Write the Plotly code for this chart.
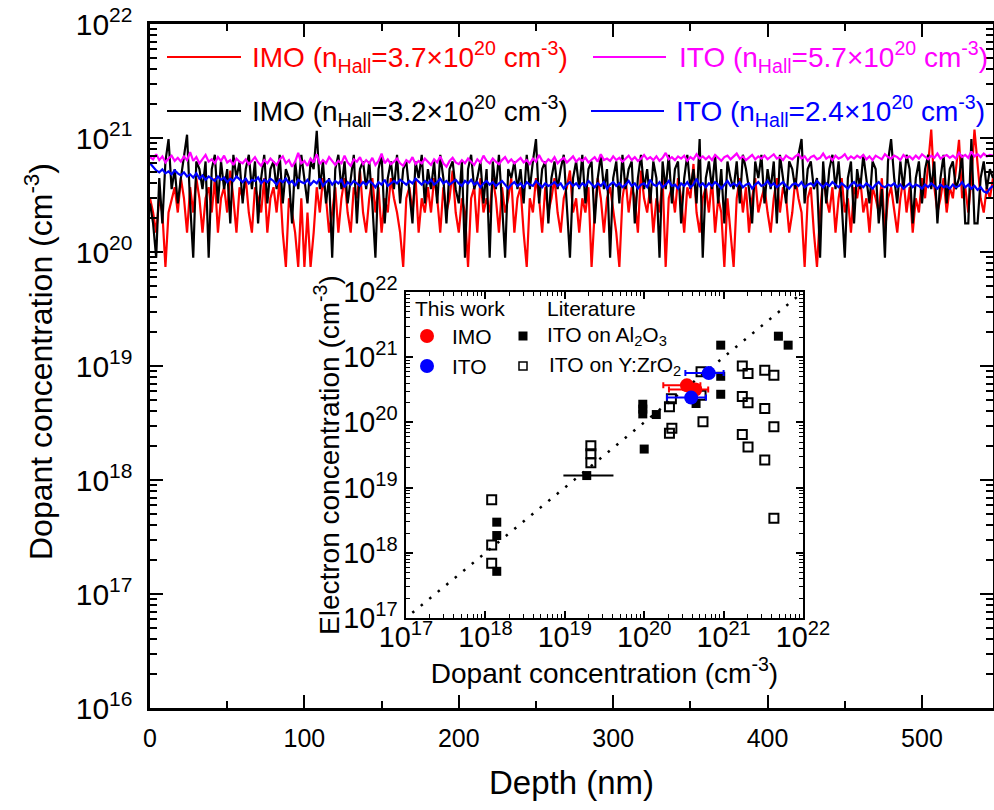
import plotly.graph_objects as go

# ---------------- main chart data (units of 1e20 cm^-3), depth step 2 nm ----------------
DEPTH_STEP_NM = 2

imo_37 = [
    2.96, 2.22, 1.48, 2.96, 2.22, 0.74, 2.22, 2.96, 3.70, 2.22,
    4.44, 2.96, 1.48, 3.70, 2.22, 4.44, 2.96, 1.48, 2.96, 3.70,
    2.22, 4.44, 1.48, 2.96, 3.70, 2.22, 5.18, 2.96, 1.48, 3.70,
    2.96, 4.44, 2.22, 1.48, 3.70, 2.96, 2.22, 4.44, 1.48, 2.96,
    3.70, 2.22, 4.44, 1.48, 0.74, 2.96, 2.22, 1.48, 0.74, 2.96,
    0.74, 2.22, 0.74, 1.48, 3.70, 2.22, 4.44, 2.96, 1.48, 2.22,
    3.70, 1.48, 2.96, 4.44, 2.22, 1.48, 3.70, 2.96, 5.18, 2.22,
    1.48, 2.96, 4.44, 2.22, 3.70, 1.48, 2.96, 2.22, 4.44, 2.96,
    2.22, 1.48, 0.74, 2.96, 3.70, 2.22, 4.44, 1.48, 2.96, 2.22,
    3.70, 2.22, 4.44, 2.96, 1.48, 3.70, 2.22, 2.96, 5.18, 2.22,
    1.48, 2.96, 2.22, 0.74, 2.96, 3.70, 1.48, 4.44, 2.22, 2.96,
    2.22, 4.44, 2.96, 1.48, 3.70, 2.22, 2.96, 4.44, 1.48, 2.96,
    3.70, 1.48, 0.74, 2.96, 2.22, 4.44, 2.96, 1.48, 3.70, 2.22,
    2.96, 4.44, 2.22, 1.48, 2.96, 3.70, 5.18, 2.22, 2.96, 1.48,
    2.96, 2.22, 3.70, 0.74, 2.22, 4.44, 2.96, 1.48, 2.96, 3.70,
    2.22, 1.48, 0.74, 2.96, 4.44, 2.22, 3.70, 2.96, 1.48, 5.18,
    2.96, 2.22, 3.70, 1.48, 2.96, 2.22, 4.44, 0.74, 2.96, 3.70,
    2.22, 4.44, 2.96, 1.48, 3.70, 2.96, 5.92, 2.22, 1.48, 2.96,
    3.70, 2.22, 4.44, 1.48, 2.96, 2.22, 0.74, 2.96, 1.48, 0.74,
    2.96, 4.44, 2.22, 3.70, 1.48, 2.96, 4.44, 2.22, 2.96, 3.70,
    2.22, 1.48, 2.96, 4.44, 2.22, 3.70, 2.96, 1.48, 2.22, 4.44,
    2.96, 2.22, 0.74, 2.96, 3.70, 1.48, 0.74, 2.22, 4.44, 2.96,
    2.22, 3.70, 1.48, 2.96, 4.44, 2.22, 2.96, 1.48, 3.70, 2.96,
    4.44, 2.22, 2.96, 1.48, 3.70, 2.96, 2.22, 4.44, 1.48, 2.96,
    3.70, 2.22, 1.48, 2.96, 4.44, 2.22, 3.70, 1.48, 2.96, 2.22,
    4.44, 2.96, 5.92, 11.84, 3.70, 2.22, 2.96, 4.44, 2.22, 3.70,
    2.96, 5.18, 9.62, 2.96, 3.70, 2.22, 4.44, 11.84, 5.92, 2.96,
    2.22, 3.70, 2.96, 4.44,
]

imo_32 = [
    2.67, 1.78, 0.89, 4.45, 1.78, 6.23, 9.79, 3.56, 5.34, 2.67,
    4.45, 7.12, 10.68, 2.67, 0.89, 6.23, 5.34, 3.56, 6.23, 0.89,
    5.34, 7.12, 2.67, 6.23, 3.56, 5.34, 1.78, 7.12, 4.45, 6.23,
    2.67, 5.34, 7.12, 3.56, 6.23, 1.78, 4.45, 7.12, 2.67, 5.34,
    6.23, 3.56, 7.12, 2.67, 5.34, 4.45, 1.78, 6.23, 3.56, 7.12,
    4.45, 2.67, 6.23, 5.34, 11.57, 3.56, 6.23, 2.67, 4.45, 0.89,
    5.34, 7.12, 3.56, 6.23, 2.67, 4.45, 7.12, 1.78, 5.34, 6.23,
    3.56, 6.23, 2.67, 0.89, 5.34, 7.12, 1.78, 4.45, 6.23, 3.56,
    7.12, 2.67, 5.34, 6.23, 3.56, 1.78, 6.23, 4.45, 7.12, 2.67,
    5.34, 3.56, 6.23, 2.67, 7.12, 4.45, 1.78, 5.34, 6.23, 3.56,
    2.67, 6.23, 0.89, 5.34, 7.12, 3.56, 4.45, 6.23, 2.67, 5.34,
    0.89, 6.23, 3.56, 7.12, 2.67, 0.89, 5.34, 4.45, 6.23, 3.56,
    5.34, 2.67, 7.12, 3.56, 6.23, 9.79, 2.67, 5.34, 6.23, 1.78,
    4.45, 6.23, 3.56, 5.34, 7.12, 2.67, 0.89, 4.45, 6.23, 3.56,
    7.12, 2.67, 5.34, 6.23, 1.78, 4.45, 7.12, 3.56, 5.34, 0.89,
    4.45, 6.23, 2.67, 7.12, 3.56, 5.34, 6.23, 1.78, 4.45, 7.12,
    3.56, 5.34, 2.67, 6.23, 4.45, 0.89, 6.23, 3.56, 7.12, 2.67,
    5.34, 6.23, 1.78, 4.45, 7.12, 3.56, 5.34, 2.67, 9.79, 0.89,
    4.45, 6.23, 3.56, 7.12, 2.67, 5.34, 1.78, 6.23, 4.45, 3.56,
    6.23, 2.67, 7.12, 5.34, 3.56, 1.78, 6.23, 4.45, 7.12, 2.67,
    5.34, 3.56, 6.23, 1.78, 7.12, 4.45, 2.67, 6.23, 5.34, 3.56,
    7.12, 9.79, 2.67, 5.34, 6.23, 3.56, 4.45, 0.89, 6.23, 2.67,
    5.34, 7.12, 3.56, 6.23, 2.67, 0.89, 4.45, 6.23, 1.78, 5.34,
    3.56, 7.12, 4.45, 2.67, 6.23, 5.34, 1.78, 3.56, 0.89, 6.23,
    9.79, 4.45, 2.67, 6.23, 3.56, 7.12, 5.34, 1.78, 4.45, 6.23,
    2.67, 5.34, 7.12, 3.56, 6.23, 1.78, 4.45, 7.12, 2.67, 5.34,
    6.23, 3.56, 4.45, 7.12, 1.78, 1.78, 9.79, 1.78, 1.78, 4.45,
    6.23, 3.56, 5.34, 4.45,
]

ito_57 = [
    6.8, 6.5, 7.2, 6.4, 6.9, 6.1, 6.6, 7.0, 6.3, 6.7,
    6.2, 6.9, 6.4, 7.5, 6.3, 6.8, 6.0, 6.6, 7.1, 6.2,
    6.5, 6.0, 6.8, 6.3, 7.0, 6.1, 6.4, 5.8, 6.6, 6.2,
    6.0, 6.5, 5.9, 6.3, 6.8, 6.1, 5.7, 6.4, 6.0, 6.6,
    6.2, 5.8, 6.5, 6.9, 6.0, 6.4, 5.6, 6.2, 7.4, 6.0,
    6.3, 5.7, 6.6, 6.1, 7.2, 5.9, 6.4, 6.0, 6.8, 6.2,
    5.8, 6.3, 6.0, 7.0, 6.1, 5.7, 6.5, 6.2, 6.8, 5.9,
    6.4, 6.0, 6.7, 5.8, 6.3, 7.3, 6.0, 6.5, 5.9, 6.2,
    6.6, 6.0, 5.7, 6.4, 6.1, 6.8, 5.9, 6.3, 6.0, 6.6,
    6.2, 5.8, 6.5, 6.1, 6.9, 6.0, 5.6, 6.3, 6.7, 6.1,
    5.9, 6.4, 6.0, 6.6, 6.2, 5.8, 6.5, 6.1, 7.0, 6.3,
    6.0, 6.6, 6.2, 5.9, 6.4, 6.8, 6.1, 6.5, 6.0, 6.3,
    6.7, 6.1, 6.4, 5.9, 6.6, 6.2, 7.1, 6.3, 6.0, 6.5,
    6.2, 6.8, 6.0, 6.4, 6.7, 6.1, 6.5, 6.9, 6.2, 6.6,
    6.3, 6.7, 6.1, 6.5, 6.8, 6.2, 7.2, 6.4, 6.6, 6.3,
    6.9, 6.4, 6.7, 6.2, 6.6, 7.0, 6.4, 6.8, 6.3, 6.6,
    7.1, 6.5, 6.8, 6.4, 6.9, 6.3, 6.7, 7.4, 6.5, 6.8,
    6.4, 6.9, 6.6, 7.0, 6.3, 6.8, 6.5, 7.2, 6.6, 6.9,
    6.5, 6.9, 6.4, 7.1, 6.7, 6.3, 6.8, 7.0, 6.5, 6.9,
    7.3, 6.6, 6.9, 6.4, 6.8, 7.1, 6.5, 6.9, 6.6, 7.0,
    6.5, 6.9, 7.2, 6.6, 6.8, 6.4, 7.0, 6.7, 6.5, 6.9,
    7.2, 6.6, 6.9, 6.3, 6.8, 7.0, 6.5, 6.7, 7.3, 6.6,
    6.9, 6.4, 7.0, 6.6, 6.8, 7.2, 6.5, 6.9, 6.6, 7.0,
    6.7, 7.1, 6.5, 6.9, 6.4, 7.0, 6.7, 6.5, 7.2, 6.8,
    6.6, 7.0, 6.8, 6.4, 7.1, 6.7, 6.9, 6.5, 7.0, 6.6,
    7.2, 6.8, 6.5, 7.0, 6.7, 7.3, 6.6, 6.9, 7.1, 6.7,
    7.0, 6.6, 7.4, 6.8, 7.1, 6.7, 7.6, 6.9, 7.2, 6.8,
    7.3, 6.9, 7.1, 7.0,
]

ito_24 = [
    6.0, 5.6, 5.2, 5.0, 5.3, 4.9, 5.1, 4.8, 5.2, 4.9,
    4.7, 5.0, 4.6, 4.8, 4.5, 4.9, 4.4, 4.7, 4.3, 4.6,
    4.4, 4.2, 4.6, 4.3, 4.5, 4.1, 4.4, 4.2, 4.6, 4.3,
    4.1, 4.4, 4.0, 4.3, 4.2, 4.5, 4.0, 4.3, 4.1, 4.4,
    4.2, 3.9, 4.3, 4.1, 4.4, 4.0, 4.2, 3.8, 4.3, 4.1,
    4.0, 4.3, 3.9, 4.2, 4.0, 4.4, 3.8, 4.1, 4.3, 3.9,
    4.2, 4.0, 4.3, 3.7, 4.1, 3.9, 4.2, 4.0, 3.8, 4.1,
    3.9, 4.2, 4.0, 3.7, 4.1, 3.9, 4.3, 3.8, 4.0, 4.2,
    4.0, 4.3, 4.1, 3.9, 4.2, 4.0, 4.4, 4.1, 3.9, 4.2,
    4.0, 4.3, 3.9, 4.1, 4.4, 4.0, 4.2, 3.9, 4.1, 4.3,
    4.0, 3.8, 4.2, 4.0, 4.3, 3.9, 4.1, 3.7, 4.0, 4.2,
    3.9, 4.1, 3.8, 4.0, 4.2, 3.9, 3.6, 3.9, 4.1, 3.8,
    4.0, 3.7, 4.1, 3.9, 3.8, 4.2, 3.9, 3.7, 4.0, 3.8,
    3.9, 4.1, 3.8, 4.0, 3.6, 3.9, 4.1, 3.8, 4.0, 3.7,
    4.0, 3.8, 4.2, 3.9, 3.7, 4.0, 3.8, 4.1, 3.6, 3.9,
    4.1, 3.8, 4.0, 3.7, 3.9, 4.2, 3.8, 4.0, 3.6, 3.9,
    4.0, 3.7, 4.3, 3.9, 3.8, 4.1, 3.7, 3.9, 4.2, 3.8,
    3.9, 3.6, 4.0, 3.8, 4.1, 3.7, 3.9, 4.4, 3.8, 4.0,
    3.7, 4.0, 3.8, 4.1, 3.9, 3.6, 3.9, 4.2, 3.8, 4.0,
    3.8, 4.1, 3.7, 3.9, 4.0, 3.6, 3.9, 4.1, 3.8, 3.9,
    4.2, 3.8, 4.0, 3.7, 3.9, 4.1, 3.8, 3.6, 3.9, 4.0,
    3.8, 4.1, 3.7, 3.9, 4.0, 3.8, 4.2, 3.9, 3.7, 4.0,
    3.8, 4.1, 3.9, 3.7, 4.0, 3.8, 3.6, 3.9, 4.1, 3.8,
    3.9, 3.7, 4.0, 3.8, 3.6, 3.9, 4.1, 3.8, 3.7, 3.9,
    3.8, 4.0, 3.7, 3.9, 3.6, 3.8, 4.0, 3.7, 3.9, 3.8,
    3.6, 3.9, 3.7, 4.0, 3.8, 3.6, 3.9, 3.7, 3.8, 3.6,
    3.9, 3.7, 3.8, 4.1, 3.7, 3.9, 3.6, 3.8, 3.5, 3.7,
    3.4, 3.3, 3.6, 3.8,
]

UNIT = 1e20
depth = [i * DEPTH_STEP_NM for i in range(len(imo_37))]

main_series = [
    ("IMO (n<sub>Hall</sub>=3.7×10<sup>20</sup> cm<sup>-3</sup>)", imo_37, "#ff0000"),
    ("IMO (n<sub>Hall</sub>=3.2×10<sup>20</sup> cm<sup>-3</sup>)", imo_32, "#000000"),
    ("ITO (n<sub>Hall</sub>=5.7×10<sup>20</sup> cm<sup>-3</sup>)", ito_57, "#ff00ff"),
    ("ITO (n<sub>Hall</sub>=2.4×10<sup>20</sup> cm<sup>-3</sup>)", ito_24, "#0000ff"),
]

# ---------------- inset data ----------------
yzro_x = [1.2e18, 1.2e18, 1.2e18, 2.13e19, 2.13e19, 2.13e19, 2.08e20, 2.08e20, 2.23e20, 2.2e20,
          5.2e20, 5.2e20, 5.5e20, 1.72e21, 2.03e21, 1.72e21, 2.03e21, 1.72e21, 2.03e21,
          3.3e21, 4.3e21, 3.3e21, 4.3e21, 3.3e21, 4.3e21]
yzro_y = [6.5e18, 1.32e18, 6.9e17, 4.4e19, 3.3e19, 2.4e19, 1.74e20, 6.8e19, 8.1e19, 2.3e20,
          6.0e20, 2.6e20, 1.02e20, 7.3e20, 5.6e20, 2.5e20, 2.0e20, 6.5e19, 4.2e19,
          6.3e20, 5.3e20, 1.64e20, 8.6e19, 2.65e19, 3.4e18]

al2o3_x = [1.39e18, 1.39e18, 1.39e18, 1.89e19, 9.6e19, 9.6e19, 9.6e19, 1.0e20, 1.42e20, 4.5e20,
           9.2e20, 9.2e20, 9.2e20, 4.9e21, 6.5e21]
al2o3_y = [2.95e18, 1.84e18, 5.2e17, 1.53e19, 1.9e20, 1.6e20, 1.35e20, 3.9e19, 1.32e20, 1.95e20,
           1.53e21, 5.1e20, 2.7e20, 2.1e21, 1.53e21]
al2o3_xlo = [None, None, None, 9.6e18, None, None, None, None, None, None, None, None, None, None, None]
al2o3_xhi = [None, None, None, 4.1e19, None, None, None, None, None, None, None, None, None, None, None]

imo_x = [3.45e20, 4.4e20]
imo_y = [3.7e20, 3.2e20]
imo_xlo = [1.74e20, 2.05e20]
imo_xhi = [5.1e20, 6.4e20]

ito_x = [6.5e20, 3.9e20]
ito_y = [5.7e20, 2.4e20]
ito_xlo = [3.3e20, 1.94e20]
ito_xhi = [1.0e21, 6.0e20]

diag = [1.2e17, 1e22]


def plus(vals, hi):
    return [None if h is None else h - v for v, h in zip(vals, hi)]


def minus(vals, lo):
    return [None if l is None else v - l for v, l in zip(vals, lo)]


FONT = "Liberation Sans, Arial, Helvetica, sans-serif"

fig = go.Figure()

for name, vals, color in main_series:
    fig.add_trace(go.Scatter(
        x=depth, y=[v * UNIT for v in vals], mode="lines", name=name,
        line=dict(color=color, width=2.2), showlegend=False,
        xaxis="x", yaxis="y",
    ))

# inset traces
fig.add_trace(go.Scatter(
    x=diag, y=diag, mode="lines", line=dict(color="black", width=2.5, dash="2.5px,8.5px"),
    showlegend=False, xaxis="x2", yaxis="y2",
))
fig.add_trace(go.Scatter(
    x=yzro_x, y=yzro_y, mode="markers", name="ITO on Y:ZrO2",
    marker=dict(symbol="square-open", size=9, color="black", line=dict(width=2, color="black")),
    showlegend=False, xaxis="x2", yaxis="y2",
))
fig.add_trace(go.Scatter(
    x=al2o3_x, y=al2o3_y, mode="markers", name="ITO on Al2O3",
    marker=dict(symbol="square", size=9, color="black"),
    error_x=dict(type="data", symmetric=False, array=plus(al2o3_x, al2o3_xhi),
                 arrayminus=minus(al2o3_x, al2o3_xlo), color="black", thickness=2, width=0),
    showlegend=False, xaxis="x2", yaxis="y2",
))
fig.add_trace(go.Scatter(
    x=imo_x, y=imo_y, mode="markers", name="IMO",
    marker=dict(symbol="circle", size=14, color="#ff0000"),
    error_x=dict(type="data", symmetric=False, array=plus(imo_x, imo_xhi),
                 arrayminus=minus(imo_x, imo_xlo), color="#ff0000", thickness=2, width=3),
    showlegend=False, xaxis="x2", yaxis="y2",
))
fig.add_trace(go.Scatter(
    x=ito_x, y=ito_y, mode="markers", name="ITO",
    marker=dict(symbol="circle", size=14, color="#0000ff"),
    error_x=dict(type="data", symmetric=False, array=plus(ito_x, ito_xhi),
                 arrayminus=minus(ito_x, ito_xlo), color="#0000ff", thickness=2, width=3),
    showlegend=False, xaxis="x2", yaxis="y2",
))

# ---------------- layout geometry (pixels -> paper) ----------------
W, H = 994, 810
ML, MR, MT, MB = 150, 1, 24, 102
PW, PH = W - ML - MR, H - MT - MB


def px(xp):
    return (xp - ML) / PW


def py(yp):
    return (H - MB - yp) / PH


axis_common = dict(showline=True, linecolor="black", mirror="allticks", showgrid=False,
                   zeroline=False, ticks="inside", tickcolor="black", automargin=False)

fig.update_layout(
    width=W, height=H, margin=dict(l=ML, r=MR, t=MT, b=MB, autoexpand=False),
    paper_bgcolor="white", plot_bgcolor="white",
    font=dict(family=FONT, color="black"),
    xaxis=dict(**axis_common, range=[0, 546], dtick=100, tick0=0, linewidth=2.5,
               ticklen=13, tickwidth=2,
               minor=dict(ticks="inside", dtick=50, ticklen=7, tickwidth=2, tickcolor="black"),
               tickfont=dict(size=25, family=FONT), ticklabelstandoff=6,
               title=dict(text="Depth (nm)", font=dict(size=33, family=FONT), standoff=21),
               domain=[0, 1], anchor="y"),
    yaxis=dict(**axis_common, type="log", range=[16, 22], dtick=1, exponentformat="power",
               linewidth=2.5, ticklen=13, tickwidth=2,
               minor=dict(ticks="inside", dtick="D1", ticklen=7, tickwidth=1.5, tickcolor="black"),
               tickfont=dict(size=24, family=FONT), ticklabelstandoff=10,
               domain=[0, 1], anchor="x"),
    xaxis2=dict(**axis_common, type="log", range=[17, 22], dtick=1, exponentformat="power",
                linewidth=1.5, ticklen=7, tickwidth=1.5,
                minor=dict(ticks="inside", dtick="D1", ticklen=4, tickwidth=1, tickcolor="black"),
                tickfont=dict(size=23, family=FONT), ticklabelstandoff=-6,
                title=dict(text="Dopant concentration (cm<sup>-3</sup>)",
                           font=dict(size=28, family=FONT), standoff=2),
                domain=[px(406), px(803)], anchor="y2"),
    yaxis2=dict(**axis_common, type="log", range=[17, 22], dtick=1, exponentformat="power",
                linewidth=1.5, ticklen=7, tickwidth=1.5,
                minor=dict(ticks="inside", dtick="D1", ticklen=4, tickwidth=1, tickcolor="black"),
                tickfont=dict(size=23, family=FONT), ticklabelstandoff=2,
                domain=[py(618), py(292)], anchor="x2"),
)

annotations = []
shapes = []

# main y title
annotations.append(dict(
    text="Dopant concentration (cm<sup>-3</sup>)", textangle=-90, xref="paper", yref="paper",
    x=px(39), y=py(362), xanchor="center", yanchor="middle", showarrow=False,
    font=dict(size=32, family=FONT, color="black"),
))
# inset y title
annotations.append(dict(
    text="Electron concentration (cm<sup>-3</sup>)", textangle=-90, xref="paper", yref="paper",
    x=px(327), y=py(455), xanchor="center", yanchor="middle", showarrow=False,
    font=dict(size=28, family=FONT, color="black"),
))

# main legend (two columns)
legend_pos = [  # (line x0, line x1, y, text x)
    (167, 241, 57, 250),
    (167, 241, 111, 250),
    (593, 666, 57, 677),
    (591, 664, 111, 674),
]
for (name, vals, color), (lx0, lx1, ly, tx) in zip(main_series, legend_pos):
    shapes.append(dict(type="line", xref="paper", yref="paper", x0=px(lx0), x1=px(lx1),
                       y0=py(ly), y1=py(ly), line=dict(color=color, width=2.2)))
    annotations.append(dict(text=name, xref="paper", yref="paper", x=px(tx), y=py(ly),
                            xanchor="left", yanchor="middle", showarrow=False,
                            font=dict(size=28, family=FONT, color=color)))

# inset legend
LF = 21
for txt, x, y in [("This work", 413, 308), ("Literature", 545, 308),
                  ("IMO", 450, 336), ("ITO", 450, 366),
                  ("ITO on Al<sub>2</sub>O<sub>3</sub>", 545, 336),
                  ("ITO on Y:ZrO<sub>2</sub>", 547, 366)]:
    annotations.append(dict(text=txt, xref="paper", yref="paper", x=px(x), y=py(y),
                            xanchor="left", yanchor="middle", showarrow=False,
                            font=dict(size=LF, family=FONT, color="black")))

for kind, x, y, r, fill, line in [("circle", 427, 336, 7, "#ff0000", "#ff0000"),
                                  ("circle", 427, 366, 7, "#0000ff", "#0000ff"),
                                  ("rect", 523, 336, 4.5, "black", "black"),
                                  ("rect", 523, 366, 4, "white", "black")]:
    shapes.append(dict(type=kind, xref="paper", yref="paper", xsizemode="pixel", ysizemode="pixel",
                       xanchor=px(x), yanchor=py(y), x0=-r, x1=r, y0=-r, y1=r,
                       fillcolor=fill, line=dict(color=line, width=1.5 if fill == "white" else 0)))

fig.update_layout(annotations=annotations, shapes=shapes)

fig.write_html("out.html")
